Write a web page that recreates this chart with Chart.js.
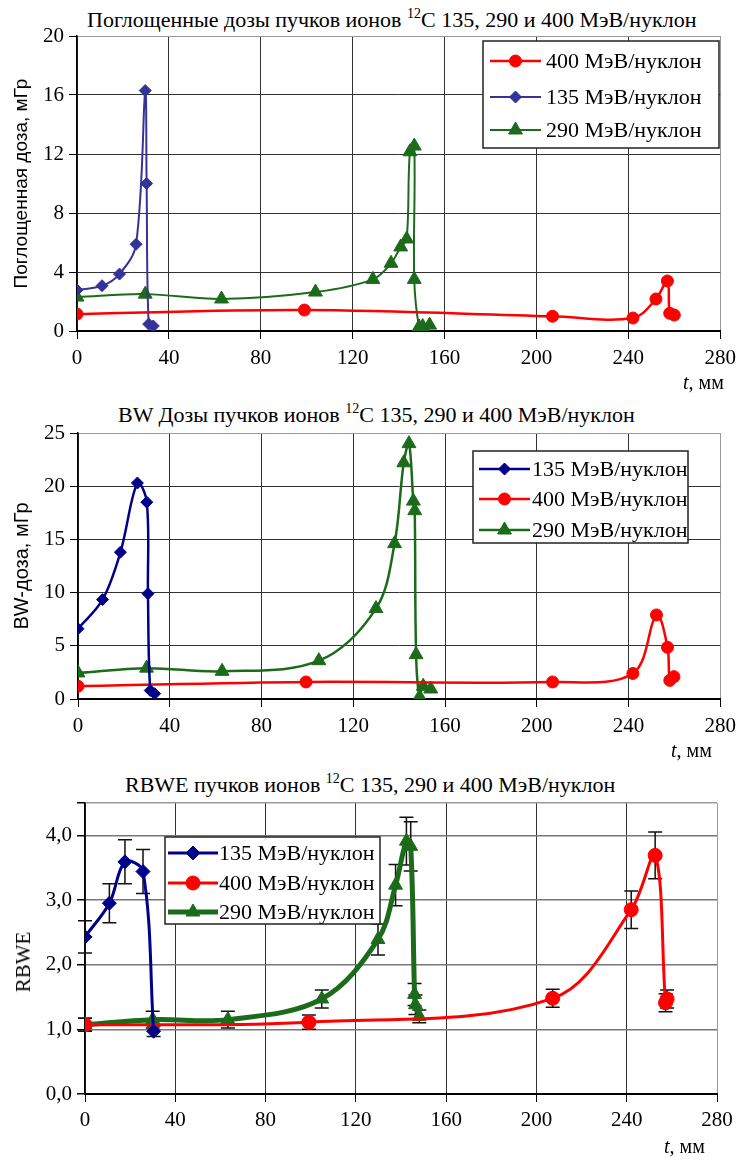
<!DOCTYPE html>
<html>
<head>
<meta charset="utf-8">
<script src="https://cdn.jsdelivr.net/npm/chart.js@4/dist/chart.umd.min.js"></script>
<style>
body{margin:0;width:743px;height:1160px;position:relative;background:#fff;font-family:"Liberation Serif",serif;overflow:hidden}
canvas{position:absolute;left:0}
.ttl{position:absolute;font-size:22px;line-height:22px;white-space:nowrap}
.ttl sup{font-size:14px;vertical-align:0;position:relative;top:-9px}
.unit{position:absolute;font-size:20px;line-height:20px;white-space:nowrap}
.ylab{position:absolute;font-size:21px;line-height:22px;white-space:nowrap;transform:translate(-50%,-50%) rotate(-90deg)}
</style>
</head>
<body>
<div class="ttl" style="left:87px;top:9px">Поглощенные дозы пучков ионов <sup>12</sup>C 135, 290 и 400 МэВ/нуклон</div>
<div class="ttl" style="left:118px;top:404px">BW Дозы пучков ионов <sup>12</sup>C 135, 290 и 400 МэВ/нуклон</div>
<div class="ttl" style="left:125px;top:774px">RBWE пучков ионов <sup>12</sup>C 135, 290 и 400 МэВ/нуклон</div>
<canvas id="c1" width="743" height="390" style="top:0"></canvas>
<canvas id="c2" width="743" height="380" style="top:390px"></canvas>
<canvas id="c3" width="743" height="390" style="top:770px"></canvas>
<div class="unit" style="left:683px;top:372px"><i>t</i>, мм</div>
<div class="unit" style="left:671px;top:740px"><i>t</i>, мм</div>
<div class="unit" style="left:664px;top:1136px"><i>t</i>, мм</div>
<div class="ylab" style="left:23px;top:962px">RBWE</div>
<script>
// --- chart 1: absorbed dose ---
const absX400 = [0, 99, 207, 242, 252, 257, 258, 260];
const absY400 = [1.15, 1.42, 1.0, 0.88, 2.17, 3.39, 1.2, 1.08];
const absX135 = [0, 10.9, 18.5, 25.7, 29.7, 30.3, 31.2, 33.2];
const absY135 = [2.78, 3.07, 3.86, 5.88, 16.3, 10.0, 0.47, 0.34];
const absX290 = [0, 29.7, 62.9, 103.8, 128.8, 136.7, 140.9, 143.5, 144.9, 146.8, 146.8, 148.9, 150.5, 153.5];
const absY290 = [2.3, 2.5, 2.17, 2.64, 3.5, 4.59, 5.7, 6.24, 12.15, 12.54, 3.5, 0.27, 0.3, 0.4];

// --- chart 2: BW dose ---
const bwX135 = [0, 10.7, 18.5, 25.9, 30, 30.5, 31.5, 33.4];
const bwY135 = [6.6, 9.34, 13.8, 20.3, 18.5, 9.9, 0.8, 0.5];
const bwX400 = [0, 99.4, 206.9, 241.9, 252.2, 257, 258, 259.8];
const bwY400 = [1.2, 1.6, 1.6, 2.4, 7.9, 4.86, 1.75, 2.1];
const bwX290 = [0, 29.9, 62.8, 105, 129.9, 138, 142, 144.3, 146.2, 146.8, 147.4, 148.9, 150.5, 153.8];
const bwY290 = [2.45, 2.9, 2.6, 3.6, 8.5, 14.6, 22.2, 24.0, 18.6, 17.7, 4.17, 0.2, 1.2, 0.94];

// --- chart 3: RBWE with error bars ---
const rbX135 = [0, 10.8, 17.7, 25.7, 30.4];
const rbY135 = [2.43, 2.95, 3.59, 3.44, 0.97];
const rbE135 = [0.25, 0.3, 0.34, 0.34, 0.08];
const rbX400 = [0, 99.2, 207.2, 242, 252.6, 257.2, 257.9];
const rbY400 = [1.07, 1.11, 1.48, 2.85, 3.69, 1.41, 1.47];
const rbE400 = [0.1, 0.11, 0.14, 0.29, 0.36, 0.14, 0.14];
const rbX290 = [0, 30, 63.3, 104.9, 129.8, 137.6, 142.4, 144.3, 146, 146.4, 148.1];
const rbY290 = [1.07, 1.15, 1.15, 1.47, 2.39, 3.23, 3.91, 3.83, 1.54, 1.38, 1.2];
const rbE290 = [0.1, 0.13, 0.13, 0.14, 0.24, 0.32, 0.37, 0.38, 0.17, 0.15, 0.1];

const labels = ["400 МэВ/нуклон", "135 МэВ/нуклон", "290 МэВ/нуклон"];
const xMax = 280, xStep = 40;

const SERIF = '"Liberation Serif", "Times New Roman", serif';
const SANS = '"Liberation Sans", Arial, sans-serif';
const RED = '#ff0000', GREEN = '#1b6b1b';

function pts(xs, ys) { return xs.map((x, i) => ({x: x, y: ys[i]})); }

function ds(label, xs, ys, color, style, r, lw, errs) {
  return {
    label: label, data: pts(xs, ys), errors: errs,
    borderColor: color, backgroundColor: color,
    pointBackgroundColor: color, pointBorderColor: color,
    pointStyle: style, pointRadius: r, pointBorderWidth: 1,
    borderWidth: lw, showLine: true, tension: 0.35
  };
}

function marker(ctx, style, x, y, r) {
  ctx.beginPath();
  if (style === 'circle') ctx.arc(x, y, r, 0, Math.PI * 2);
  else if (style === 'rectRot') { ctx.moveTo(x - r, y); ctx.lineTo(x, y - r); ctx.lineTo(x + r, y); ctx.lineTo(x, y + r); }
  else { for (let k = 0; k < 3; k++) { const a = k * 2 * Math.PI / 3; ctx[k ? 'lineTo' : 'moveTo'](x + Math.sin(a) * r, y - Math.cos(a) * r); } }
  ctx.closePath();
  ctx.fill(); ctx.stroke();
}

const boxLegend = {
  id: 'boxLegend',
  afterDatasetsDraw(chart, args, o) {
    if (!o.box) return;
    const ctx = chart.ctx, b = o.box;
    ctx.save();
    ctx.fillStyle = '#fff';
    ctx.fillRect(b[0], b[1], b[2] - b[0], b[3] - b[1]);
    ctx.strokeStyle = '#222'; ctx.lineWidth = 1.5;
    ctx.strokeRect(b[0], b[1], b[2] - b[0], b[3] - b[1]);
    o.rows.forEach(row => {
      const d = chart.data.datasets[row[0]], y = row[1];
      ctx.strokeStyle = d.borderColor; ctx.lineWidth = d.borderWidth;
      ctx.beginPath(); ctx.moveTo(o.line[0], y); ctx.lineTo(o.line[1], y); ctx.stroke();
      ctx.fillStyle = d.borderColor; ctx.lineWidth = 1;
      marker(ctx, d.pointStyle, (o.line[0] + o.line[1]) / 2, y, d.pointRadius);
      ctx.fillStyle = '#000'; ctx.font = o.size + 'px ' + SERIF;
      ctx.textBaseline = 'middle'; ctx.textAlign = 'left';
      ctx.fillText(d.label, o.textX, y + 1);
    });
    ctx.restore();
  }
};

const errorBars = {
  id: 'errorBars',
  beforeDatasetsDraw(chart) {
    const ctx = chart.ctx, xs = chart.scales.x, ys = chart.scales.y;
    ctx.save();
    ctx.strokeStyle = '#111'; ctx.lineWidth = 1.5;
    chart.data.datasets.forEach(d => {
      if (!d.errors) return;
      d.data.forEach((p, i) => {
        const e = d.errors[i];
        const px = xs.getPixelForValue(p.x);
        const top = ys.getPixelForValue(p.y + e), bot = ys.getPixelForValue(p.y - e);
        ctx.beginPath();
        ctx.moveTo(px, top); ctx.lineTo(px, bot);
        ctx.moveTo(px - 7, top); ctx.lineTo(px + 7, top);
        ctx.moveTo(px - 7, bot); ctx.lineTo(px + 7, bot);
        ctx.stroke();
      });
    });
    ctx.restore();
  }
};

function makeChart(id, sets, c) {
  return new Chart(document.getElementById(id), {
    type: 'scatter',
    data: { datasets: sets },
    plugins: [errorBars, boxLegend],
    options: {
      responsive: false, animation: false,
      layout: { padding: { top: c.top, right: c.right, left: 0, bottom: 0 } },
      plugins: { legend: { display: false }, tooltip: { enabled: false }, boxLegend: c.legend },
      scales: {
        x: {
          type: 'linear', min: 0, max: xMax,
          ticks: { stepSize: xStep, padding: c.xPad, maxRotation: 0, color: '#000', font: { family: SERIF, size: 21 } },
          grid: { color: ctx => ctx.tick && ctx.tick.value === xMax ? '#999' : '#333', lineWidth: 1, tickColor: '#000', tickLength: 8 },
          border: { color: '#000', width: 2 },
          afterFit: s => { s.height = c.bottom; }
        },
        y: {
          min: 0, max: c.yMax,
          ticks: {
            stepSize: c.yStep, padding: 5, color: '#000', font: { family: SERIF, size: 21 },
            callback: v => (v > c.yTop ? '' : (c.fmt ? c.fmt(v) : v))
          },
          grid: { color: ctx => ctx.tick && ctx.tick.value >= c.yMax ? '#999' : c.hGrid, lineWidth: c.hWidth, tickColor: '#000', tickLength: 8 },
          border: { color: '#000', width: 1.5 },
          title: { display: !!c.yTitle, text: c.yTitle || '', color: '#000', font: c.yFont, padding: { top: 10, bottom: 0 } },
          afterFit: s => { s.width = c.left; }
        }
      }
    }
  });
}

function drawAll() {
  makeChart('c1', [
    ds(labels[0], absX400, absY400, RED, 'circle', 6, 2.5),
    ds(labels[1], absX135, absY135, '#333399', 'rectRot', 6, 2),
    ds(labels[2], absX290, absY290, GREEN, 'triangle', 8, 2)
  ], {
    top: 36, right: 16, bottom: 59, left: 77, xPad: 7,
    yMax: 20, yStep: 4, yTop: 20, hGrid: '#333', hWidth: 1,
    yTitle: 'Поглощенная доза, мГр', yFont: { family: SANS, size: 19 },
    legend: { box: [483, 41, 719, 148], line: [490, 541], textX: 546, size: 22, rows: [[0, 61], [1, 97], [2, 130]] }
  });

  makeChart('c2', [
    ds(labels[1], bwX135, bwY135, '#00008b', 'rectRot', 6, 2.5),
    ds(labels[0], bwX400, bwY400, RED, 'circle', 6, 2.5),
    ds(labels[2], bwX290, bwY290, GREEN, 'triangle', 8, 2.5)
  ], {
    top: 43, right: 17, bottom: 71, left: 78, xPad: 7,
    yMax: 25, yStep: 5, yTop: 25, hGrid: '#333', hWidth: 1,
    yTitle: 'BW-доза, мГр', yFont: { family: SANS, size: 20 },
    legend: { box: [473, 61, 688, 153], line: [479, 530], textX: 532, size: 22, rows: [[0, 79], [1, 109], [2, 140]] }
  });

  makeChart('c3', [
    ds(labels[1], rbX135, rbY135, '#00008b', 'rectRot', 7, 3, rbE135),
    ds(labels[0], rbX400, rbY400, RED, 'circle', 7, 3, rbE400),
    ds(labels[2], rbX290, rbY290, GREEN, 'triangle', 8, 5, rbE290)
  ], {
    top: 33, right: 26, bottom: 66, left: 85, xPad: 6,
    yMax: 4.5, yStep: 1, yTop: 4, hGrid: '#777', hWidth: 1.5,
    fmt: v => v.toFixed(1).replace('.', ','),
    legend: { box: [165, 67, 380, 154], line: [168, 218], textX: 219, size: 22, rows: [[0, 83], [1, 113], [2, 142]] }
  });
}

Promise.all([
  document.fonts.load('20px "Liberation Serif"'),
  document.fonts.load('20px "Liberation Sans"')
]).then(drawAll, drawAll);
</script>
</body>
</html>
